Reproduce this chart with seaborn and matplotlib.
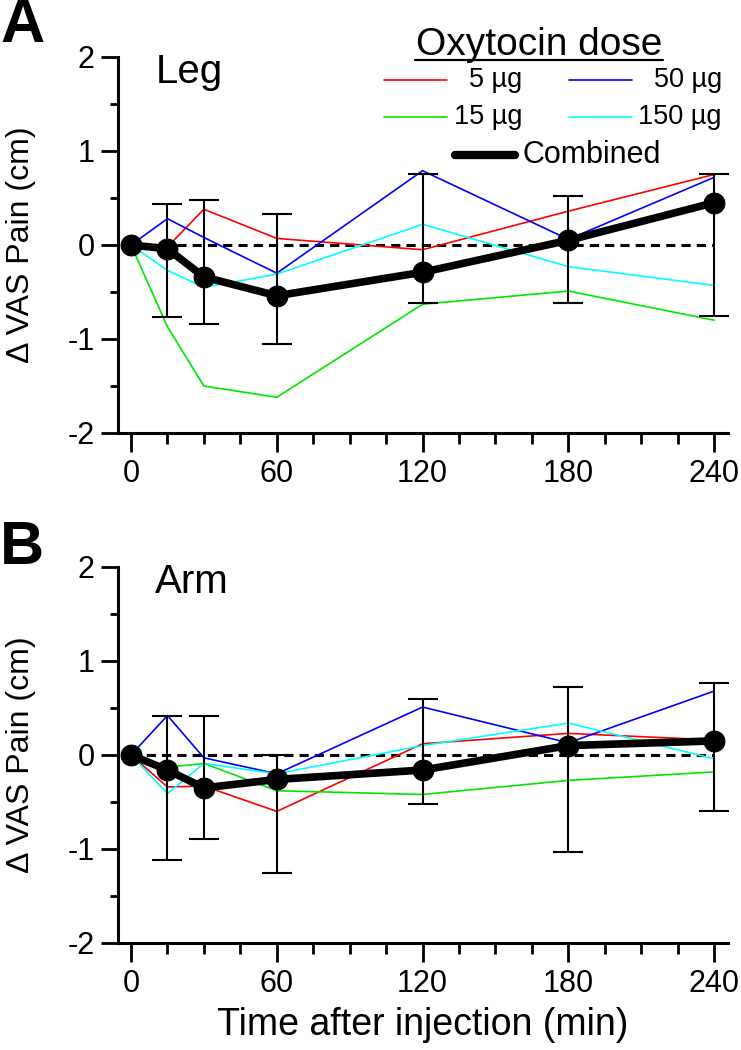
import matplotlib
matplotlib.use("Agg")
import matplotlib.pyplot as plt
from matplotlib.lines import Line2D
from matplotlib.ticker import MultipleLocator
import numpy as np
import pandas as pd
import seaborn as sns

# time points (min after injection)
times = [0, 15, 30, 60, 120, 180, 240]
doses = ["5 µg", "15 µg", "50 µg", "150 µg"]
dose_colors = ["#ff0000", "#00e600", "#0000ff", "#00ffff"]

# A: leg
leg_5 = [0, -0.02, 0.38, 0.07, -0.05, 0.36, 0.75]
leg_15 = [0, -0.87, -1.50, -1.62, -0.63, -0.49, -0.80]
leg_50 = [0, 0.28, 0.08, -0.30, 0.79, 0.06, 0.72]
leg_150 = [0, -0.27, -0.45, -0.31, 0.22, -0.23, -0.43]
leg_combined = [0, -0.04, -0.34, -0.54, -0.29, 0.05, 0.45]
leg_upper = [0, 0.44, 0.48, 0.33, 0.76, 0.52, 0.76]
leg_lower = [0, -0.77, -0.84, -1.05, -0.62, -0.62, -0.76]

# B: arm
arm_5 = [0, -0.34, -0.33, -0.60, 0.12, 0.23, 0.16]
arm_15 = [0, -0.13, -0.09, -0.38, -0.42, -0.27, -0.18]
arm_50 = [0, 0.42, -0.03, -0.20, 0.51, 0.13, 0.68]
arm_150 = [0, -0.41, -0.09, -0.20, 0.10, 0.34, -0.04]
arm_combined = [0, -0.16, -0.35, -0.26, -0.16, 0.10, 0.15]
arm_upper = [0, 0.42, 0.42, 0.00, 0.60, 0.72, 0.77]
arm_lower = [0, -1.12, -0.89, -1.25, -0.52, -1.03, -0.60]

W, H = 741, 1050


def fx(px):
    return px / W


def fy(py):
    return 1 - py / H


sns.set_theme(style="ticks", rc={
    "axes.edgecolor": "black", "xtick.color": "black", "ytick.color": "black",
    "text.color": "black", "axes.labelcolor": "black",
})
plt.rcParams["font.family"] = ["Liberation Sans", "DejaVu Sans"]
plt.rcParams["axes.unicode_minus"] = False

fig = plt.figure(figsize=(W / 100, H / 100), dpi=100)
ax_a = fig.add_axes([fx(118), fy(433), fx(728) - fx(118), fy(57) - fy(433)])
ax_b = fig.add_axes([fx(118), fy(943), fx(728) - fx(118), fy(567) - fy(943)])


def draw_panel(ax, dose_vals, combined, upper, lower, region):
    df = pd.DataFrame({
        "time": times * len(doses),
        "change": np.concatenate(dose_vals),
        "dose": np.repeat(doses, len(times)),
    })
    ax.hlines(0, times[0], times[-1], colors="black", linestyles=(0, (3, 2)),
              linewidth=2.2, zorder=1)
    sns.lineplot(data=df, x="time", y="change", hue="dose", hue_order=doses,
                 palette=dict(zip(doses, dose_colors)), estimator=None,
                 linewidth=1.2, legend=False, ax=ax, zorder=2)

    comb = np.array(combined)
    yerr = [comb[1:] - np.array(lower[1:]), np.array(upper[1:]) - comb[1:]]
    ax.errorbar(times[1:], comb[1:], yerr=yerr, fmt="none", ecolor="black",
                elinewidth=1.5, capsize=10.5, capthick=1.5, zorder=3)
    sns.lineplot(x=times, y=combined, color="black", linewidth=5.5, marker="o",
                 markersize=15, markeredgecolor="black", ax=ax, zorder=5)

    ax.text(10, 1.72, region, fontsize=29, ha="left", va="baseline")

    ax.set_xlim(-5.35, 245.7)
    ax.set_ylim(-2, 2)
    ax.set_xticks(range(0, 241, 60))
    ax.set_yticks([-2, -1, 0, 1, 2])
    ax.xaxis.set_minor_locator(MultipleLocator(15))
    ax.yaxis.set_minor_locator(MultipleLocator(0.5))
    ax.tick_params(axis="x", which="major", length=14, width=2, labelsize=22, pad=5)
    ax.tick_params(axis="x", which="minor", length=8, width=2)
    ax.tick_params(axis="y", which="major", length=12, width=2, labelsize=22, pad=5)
    ax.tick_params(axis="y", which="minor", length=6, width=2)
    for side in ["top", "right"]:
        ax.spines[side].set_visible(False)
    for side in ["left", "bottom"]:
        ax.spines[side].set_linewidth(2.2)
    ax.set_xlabel("")
    ax.set_ylabel("Δ VAS Pain (cm)", fontsize=23)
    ax.yaxis.set_label_coords(-0.135, 0.5)


draw_panel(ax_a, [leg_5, leg_15, leg_50, leg_150], leg_combined,
           leg_upper, leg_lower, "Leg")
draw_panel(ax_b, [arm_5, arm_15, arm_50, arm_150], arm_combined,
           arm_upper, arm_lower, "Arm")
ax_b.set_xlabel("Time after injection (min)", fontsize=27)
ax_b.xaxis.set_label_coords(0.5, -0.17)

# panel letters
fig.text(fx(0), fy(42), "A", fontsize=44, fontweight="bold", ha="left", va="baseline")
fig.text(fx(0), fy(564), "B", fontsize=44, fontweight="bold", ha="left", va="baseline")

# legend drawn by hand to mimic the Origin layout
fig.text(fx(539), fy(55), "Oxytocin dose", fontsize=28, ha="center", va="baseline")
fig.add_artist(Line2D([fx(415), fx(663)], [fy(60), fy(60)], color="black",
                      linewidth=1.6, transform=fig.transFigure))
rows = [(80, 0, 2), (117, 1, 3)]
for ypx, left_i, right_i in rows:
    for i, (lx0, tx) in zip([left_i, right_i], [(384, 522), (569, 722)]):
        fig.add_artist(Line2D([fx(lx0), fx(lx0 + 63)], [fy(ypx), fy(ypx)],
                              color=dose_colors[i], linewidth=1.2,
                              transform=fig.transFigure))
        fig.text(fx(tx), fy(ypx), doses[i], fontsize=19.5, ha="right", va="center")
fig.add_artist(Line2D([fx(455), fx(515)], [fy(155), fy(155)], color="black",
                      linewidth=6, solid_capstyle="round", transform=fig.transFigure))
fig.text(fx(523), fy(155), "Combined", fontsize=22, ha="left", va="center")

fig.savefig("out.png", dpi=100)
